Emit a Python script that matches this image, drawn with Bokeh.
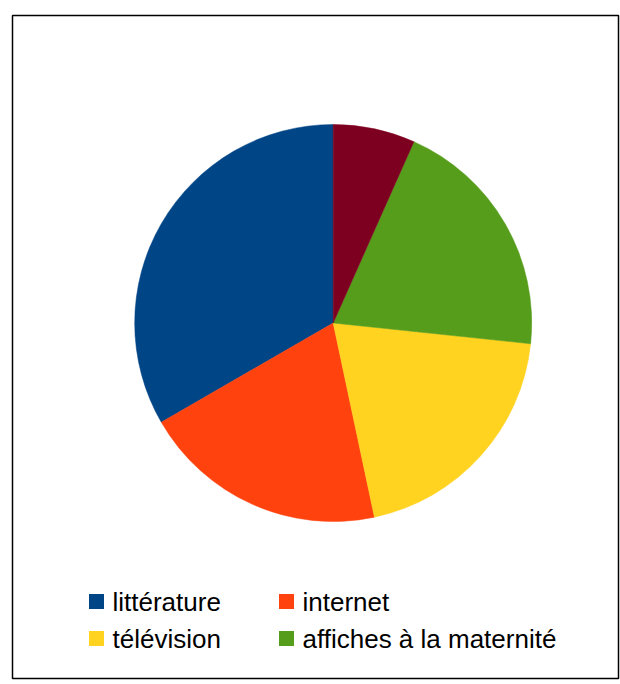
import numpy as np
from bokeh.plotting import figure
from bokeh.models import ColumnDataSource, Range1d
from bokeh.core.properties import value
from bokeh.embed import file_html
from bokeh.resources import INLINE

categories = ["littérature", "internet", "télévision", "affiches à la maternité", "autres"]
counts = [5, 3, 3, 3, 1]
colors = ["#004586", "#ff420e", "#ffd320", "#579d1c", "#7e0021"]
legend_count = 4  # only the first four entries are visible in the legend

W, H = 620, 684
p = figure(width=W, height=H, output_backend="svg", toolbar_location=None,
           x_range=Range1d(0, W), y_range=Range1d(0, H), min_border=0)
p.axis.visible = False
p.grid.visible = False
p.outline_line_color = None
p.background_fill_color = "white"
p.border_fill_color = "white"

def sy(y):  # screen y -> data y
    return H - y

def sx(x):
    return x

# frame
p.quad(left=[sx(12)], right=[sx(618)], top=[sy(15)], bottom=[sy(678)],
       fill_color=None, line_color="black", line_width=1.5)

# pie
vals = np.array(counts, dtype=float)
frac = vals / vals.sum()
cum = np.concatenate([[0], np.cumsum(frac)])
start = np.pi / 2 + 2 * np.pi * cum[:-1]
end = np.pi / 2 + 2 * np.pi * cum[1:]
src = ColumnDataSource(dict(start=start, end=end, color=colors, cat=categories))
p.wedge(x=sx(332.7), y=sy(322.5), radius=198.5, start_angle="start", end_angle="end",
        fill_color="color", line_color="color", line_width=0.5, source=src)

# legend
lx, ly = [], []
tx = []
for i in range(legend_count):
    col, row = i % 2, i // 2
    cx = 96 + col * 190
    cy = 601 + row * 37
    lx.append(sx(cx)); ly.append(sy(cy)); tx.append(sx(cx + 16))
lsrc = ColumnDataSource(dict(x=lx, y=ly, tx=tx, color=colors[:legend_count],
                             label=categories[:legend_count]))
p.rect(x="x", y="y", width=15, height=15, fill_color="color", line_color=None, source=lsrc)
p.text(x="tx", y="y", text="label", source=lsrc, text_font=value("Liberation Sans"),
       text_font_size="26px", text_baseline="middle", text_align="left", text_color="black")

open("out.html", "w").write(file_html(p, INLINE))
